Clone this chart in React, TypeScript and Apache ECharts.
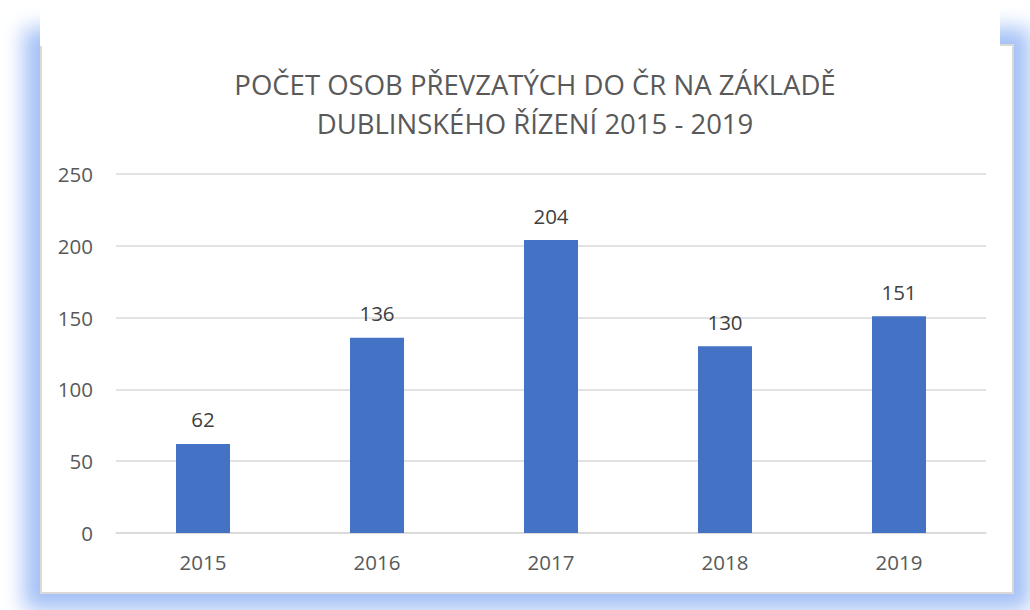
import React, { useEffect, useRef } from "react";
import * as echarts from "echarts";

const titleLines = ["POČET OSOB PŘEVZATÝCH DO ČR NA ZÁKLADĚ", "DUBLINSKÉHO ŘÍZENÍ 2015 - 2019"];
const years = ["2015", "2016", "2017", "2018", "2019"];
const persons = [62, 136, 204, 130, 151];
const yTicks = { min: 0, max: 250, interval: 50 };

const FONT = "'Open Sans', sans-serif";

export default function App() {
  const ref = useRef<HTMLDivElement>(null);
  useEffect(() => {
    document.body.style.margin = "0";
    const chart = echarts.init(ref.current!, null, { renderer: "svg" });
    chart.setOption({
      animation: false,
      title: {
        text: titleLines.join("\n"),
        left: 530,
        textAlign: "center",
        top: 60,
        textStyle: {
          fontFamily: FONT,
          fontSize: 27.5,
          fontWeight: "normal",
          color: "#595959",
          lineHeight: 39,
        },
      },
      grid: { left: 116, right: 44, top: 174, bottom: 77 },
      xAxis: {
        type: "category",
        data: years,
        axisLine: { lineStyle: { color: "#d9d9d9", width: 1.5 } },
        axisTick: { show: false },
        axisLabel: { fontFamily: FONT, fontSize: 20.5, color: "#595959", margin: 18 },
      },
      yAxis: {
        type: "value",
        min: yTicks.min,
        max: yTicks.max,
        interval: yTicks.interval,
        axisLine: { show: false },
        axisTick: { show: false },
        splitLine: { lineStyle: { color: "#d9d9d9", width: 1.5 } },
        axisLabel: { fontFamily: FONT, fontSize: 20.5, color: "#595959", margin: 23 },
      },
      series: [
        {
          type: "bar",
          data: persons,
          barWidth: 54,
          itemStyle: { color: "#4472c4" },
          label: {
            show: true,
            position: "top",
            distance: 14,
            fontFamily: FONT,
            fontSize: 20.5,
            color: "#404040",
          },
        },
      ],
    });
    return () => chart.dispose();
  }, []);

  return (
    <div style={{ position: "relative", width: 1030, height: 610, overflow: "hidden", background: "#fff" }}>
      <div
        style={{
          position: "absolute",
          left: 40,
          top: 44,
          width: 974,
          height: 550,
          boxSizing: "border-box",
          border: "2px solid #d9d9d9",
          background: "#fff",
          boxShadow: "0 0 20px 16px #a3c0f6",
        }}
      />
      <div style={{ position: "absolute", left: 40, top: 0, width: 960, height: 46, background: "#fff" }} />
      <div ref={ref} style={{ position: "absolute", left: 0, top: 0, width: 1030, height: 610 }} />
    </div>
  );
}
